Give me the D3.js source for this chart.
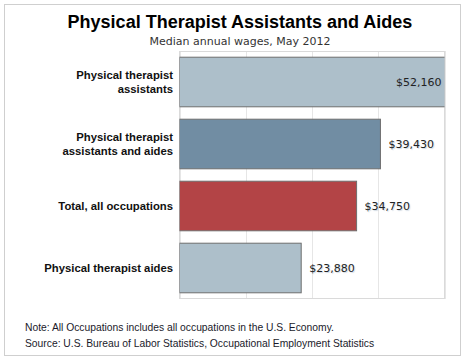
<!DOCTYPE html>
<html>
<head>
<meta charset="utf-8">
<script src="https://cdn.jsdelivr.net/npm/d3@7"></script>
<style>
  html, body { margin: 0; padding: 0; background: #fff; }
  svg { display: block; }
</style>
</head>
<body>
<svg id="chart" width="465" height="360"></svg>
<script>
// ---- Data ----
const categories = ["Physical therapist assistants", "Physical therapist assistants and aides", "Total, all occupations", "Physical therapist aides"];
const categoryLines = [["Physical therapist", "assistants"], ["Physical therapist", "assistants and aides"], ["Total, all occupations"], ["Physical therapist aides"]];
const wages = [52160, 39430, 34750, 23880];
const barColors = ["#adbfca", "#718da3", "#b34446", "#adbfca"];
const gridTicks = [0, 13000, 26000, 39000, 52000];
const titleText = "Physical Therapist Assistants and Aides";
const subtitleText = "Median annual wages, May 2012";
const notes = ["Note: All Occupations includes all occupations in the U.S. Economy.", "Source: U.S. Bureau of Labor Statistics, Occupational Employment Statistics"];

// ---- Layout ----
const svg = d3.select("#chart");
const plot = { left: 179.5, right: 444.5, top: 51, bottom: 299 };

const x = d3.scaleLinear().domain([0, 52000]).range([plot.left, plot.right]);
const y = d3.scaleBand().domain(categories).range([plot.top, plot.bottom]).paddingInner(0.2).paddingOuter(0.1);
const fmt = d3.format("$,");

// outer frame
svg.append("rect").attr("x", 4.5).attr("y", 4.5).attr("width", 456).attr("height", 351)
  .attr("fill", "#fff").attr("stroke", "#cfcfcf");

// title
svg.append("text").attr("x", 240).attr("y", 28).attr("text-anchor", "middle")
  .attr("font-family", "Liberation Sans, Arial, sans-serif").attr("font-weight", "bold")
  .attr("font-size", 18).attr("fill", "#000").text(titleText);
svg.append("text").attr("x", 240).attr("y", 45).attr("text-anchor", "middle")
  .attr("font-family", "DejaVu Sans, Verdana, sans-serif")
  .attr("font-size", 11).attr("fill", "#333").text(subtitleText);

// clip
svg.append("clipPath").attr("id", "plotclip").append("rect")
  .attr("x", plot.left).attr("y", plot.top).attr("width", plot.right - plot.left).attr("height", plot.bottom - plot.top);

// grid
svg.append("g").selectAll("line").data(gridTicks).join("line")
  .attr("x1", d => Math.round(x(d)) + 0.5).attr("x2", d => Math.round(x(d)) + 0.5)
  .attr("y1", plot.top).attr("y2", plot.bottom)
  .attr("stroke", "#e6e6e6");

// plot border
svg.append("rect").attr("x", plot.left).attr("y", plot.top + 0.5)
  .attr("width", plot.right - plot.left).attr("height", plot.bottom - plot.top - 1)
  .attr("fill", "none").attr("stroke", "#dadada");

// bars
svg.append("g").attr("clip-path", "url(#plotclip)").selectAll("rect").data(wages).join("rect")
  .attr("x", x(0))
  .attr("y", (d, i) => y(categories[i]))
  .attr("width", d => x(d) - x(0))
  .attr("height", y.bandwidth())
  .attr("fill", (d, i) => barColors[i])
  .attr("stroke", "#6e6e6e").attr("stroke-width", 1);

// value labels
svg.append("g").selectAll("text").data(wages).join("text")
  .attr("x", d => x(d) + 50 > plot.right ? plot.right - 3 : x(d) + 8)
  .attr("text-anchor", d => x(d) + 50 > plot.right ? "end" : "start")
  .attr("y", (d, i) => y(categories[i]) + y.bandwidth() / 2 + 4)
  .attr("font-family", "DejaVu Sans, Verdana, sans-serif")
  .attr("font-size", 11).attr("fill", "#222")
  .style("text-shadow", "1px 1px 1px rgba(150,170,190,0.45)")
  .text(d => fmt(d));

// category labels
const lab = svg.append("g").selectAll("text").data(categoryLines).join("text")
  .attr("text-anchor", "end")
  .attr("font-family", "Liberation Sans, Arial, sans-serif").attr("font-weight", "bold")
  .attr("font-size", 11.3).attr("fill", "#111");
lab.each(function(lines, i) {
  const cy = y(categories[i]) + y.bandwidth() / 2;
  const lh = 13.5;
  const startY = cy - (lines.length - 1) * lh / 2 + 4;
  d3.select(this).selectAll("tspan").data(lines).join("tspan")
    .attr("x", 173).attr("y", (l, k) => startY + k * lh).text(l => l);
});

// notes
svg.append("g").selectAll("text").data(notes).join("text")
  .attr("x", 25).attr("y", (d, i) => 331 + i * 16)
  .attr("font-family", "Liberation Sans, Arial, sans-serif")
  .attr("font-size", 10.3).attr("fill", "#1a1a2a")
  .text(d => d);
</script>
</body>
</html>
